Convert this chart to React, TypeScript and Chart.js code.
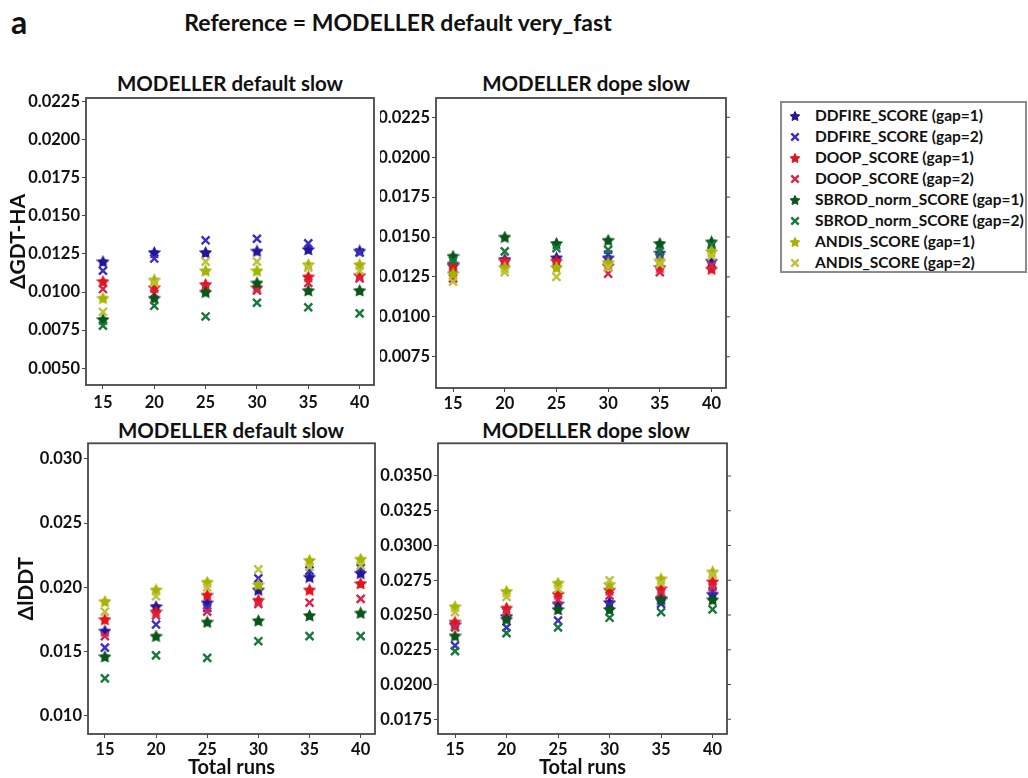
import React, { useEffect, useRef } from "react";
import { Chart, registerables } from "chart.js";
Chart.register(...registerables);

// ---------- data ----------
const RUNS = [15, 20, 25, 30, 35, 40];

const SERIES_NAMES = [
  "DDFIRE_SCORE (gap=1)",
  "DDFIRE_SCORE (gap=2)",
  "DOOP_SCORE (gap=1)",
  "DOOP_SCORE (gap=2)",
  "SBROD_norm_SCORE (gap=1)",
  "SBROD_norm_SCORE (gap=2)",
  "ANDIS_SCORE (gap=1)",
  "ANDIS_SCORE (gap=2)",
];
const SERIES_COLORS = ["#24169a", "#3d2dc4", "#e3141c", "#d8244a", "#0a561a", "#17783c", "#a6b400", "#bcc23a"];
const SERIES_SHAPES = ["star", "x", "star", "x", "star", "x", "star", "x"];

// ΔGDT-HA, MODELLER default slow
const GDT_DEF_DDFIRE1 = [0.0120, 0.0126, 0.0126, 0.0127, 0.0128, 0.0127];
const GDT_DEF_DDFIRE2 = [0.0114, 0.0122, 0.0134, 0.0135, 0.0132, 0.0126];
const GDT_DEF_DOOP1 = [0.0107, 0.0103, 0.0105, 0.0103, 0.0110, 0.0111];
const GDT_DEF_DOOP2 = [0.0102, 0.0099, 0.0103, 0.0101, 0.0106, 0.0109];
const GDT_DEF_SBROD1 = [0.0082, 0.0096, 0.0100, 0.0106, 0.0101, 0.0101];
const GDT_DEF_SBROD2 = [0.0078, 0.0091, 0.0084, 0.0093, 0.0090, 0.0086];
const GDT_DEF_ANDIS1 = [0.0096, 0.0108, 0.0114, 0.0114, 0.0118, 0.0118];
const GDT_DEF_ANDIS2 = [0.0087, 0.0106, 0.0120, 0.0120, 0.0116, 0.0114];

// ΔGDT-HA, MODELLER dope slow
const GDT_DOPE_DDFIRE1 = [0.0133, 0.0136, 0.0137, 0.0137, 0.0140, 0.0135];
const GDT_DOPE_DDFIRE2 = [0.0130, 0.0133, 0.0134, 0.0139, 0.0137, 0.0133];
const GDT_DOPE_DOOP1 = [0.0132, 0.0135, 0.0135, 0.0132, 0.0131, 0.0130];
const GDT_DOPE_DOOP2 = [0.0124, 0.0134, 0.0133, 0.0127, 0.0128, 0.0132];
const GDT_DOPE_SBROD1 = [0.0138, 0.0150, 0.0146, 0.0148, 0.0146, 0.0147];
const GDT_DOPE_SBROD2 = [0.0135, 0.0141, 0.0143, 0.0142, 0.0141, 0.0145];
const GDT_DOPE_ANDIS1 = [0.0127, 0.0131, 0.0131, 0.0134, 0.0135, 0.0141];
const GDT_DOPE_ANDIS2 = [0.0122, 0.0128, 0.0125, 0.0131, 0.0133, 0.0138];

// ΔlDDT, MODELLER default slow
const LDDT_DEF_DDFIRE1 = [0.0166, 0.0185, 0.0188, 0.0198, 0.0208, 0.0211];
const LDDT_DEF_DDFIRE2 = [0.0153, 0.0171, 0.0184, 0.0207, 0.0213, 0.0215];
const LDDT_DEF_DOOP1 = [0.0175, 0.0181, 0.0194, 0.0190, 0.0198, 0.0203];
const LDDT_DEF_DOOP2 = [0.0162, 0.0178, 0.0181, 0.0187, 0.0188, 0.0191];
const LDDT_DEF_SBROD1 = [0.0146, 0.0162, 0.0173, 0.0174, 0.0178, 0.0180];
const LDDT_DEF_SBROD2 = [0.0129, 0.0147, 0.0145, 0.0158, 0.0162, 0.0162];
const LDDT_DEF_ANDIS1 = [0.0189, 0.0198, 0.0204, 0.0202, 0.0221, 0.0222];
const LDDT_DEF_ANDIS2 = [0.0181, 0.0193, 0.0200, 0.0214, 0.0216, 0.0217];

// ΔlDDT, MODELLER dope slow
const LDDT_DOPE_DDFIRE1 = [0.0243, 0.0249, 0.0258, 0.0259, 0.0262, 0.0265];
const LDDT_DOPE_DDFIRE2 = [0.0228, 0.0241, 0.0246, 0.0257, 0.0258, 0.0267];
const LDDT_DOPE_DOOP1 = [0.0245, 0.0255, 0.0265, 0.0268, 0.0269, 0.0274];
const LDDT_DOPE_DOOP2 = [0.0241, 0.0252, 0.0261, 0.0264, 0.0266, 0.0270];
const LDDT_DOPE_SBROD1 = [0.0235, 0.0247, 0.0254, 0.0254, 0.0261, 0.0261];
const LDDT_DOPE_SBROD2 = [0.0224, 0.0237, 0.0241, 0.0248, 0.0252, 0.0254];
const LDDT_DOPE_ANDIS1 = [0.0256, 0.0267, 0.0273, 0.0272, 0.0276, 0.0281];
const LDDT_DOPE_ANDIS2 = [0.0252, 0.0263, 0.0269, 0.0275, 0.0273, 0.0279];

const FONT = "Lato, 'Open Sans', 'DejaVu Sans', sans-serif";

// ---------- markers ----------
function starPath(ctx: CanvasRenderingContext2D, cx: number, cy: number, ro: number, ri: number) {
  ctx.beginPath();
  for (let k = 0; k < 10; k++) {
    const r = k % 2 === 0 ? ro : ri;
    const a = -Math.PI / 2 + (k * Math.PI) / 5;
    const px = cx + r * Math.cos(a);
    const py = cy + r * Math.sin(a);
    if (k === 0) ctx.moveTo(px, py);
    else ctx.lineTo(px, py);
  }
  ctx.closePath();
}

const starCache: Record<string, HTMLCanvasElement> = {};
function starImage(color: string): HTMLCanvasElement {
  if (starCache[color]) return starCache[color];
  const size = 13;
  const c = document.createElement("canvas");
  c.width = size;
  c.height = size;
  const ctx = c.getContext("2d")!;
  ctx.fillStyle = color;
  ctx.strokeStyle = color;
  ctx.lineWidth = 1.2;
  starPath(ctx, size / 2, size / 2 + 0.5, 5.6, 2.9);
  ctx.fill();
  ctx.stroke();
  starCache[color] = c;
  return c;
}

// ---------- panel ----------
type PanelProps = {
  left: number;
  top: number;
  width: number;
  height: number;
  padTop: number;
  yTitle?: string;
  yTitlePad?: number;
  xTitle?: string;
  yWidth: number;
  xHeight: number;
  xTickPad: number;
  yMin: number;
  yMax: number;
  yStep: number;
  decimals: number;
  rightTicks: boolean;
  padRight: number;
  series: number[][];
};

const framePlugin = {
  id: "frame",
  afterDraw(chart: any, _args: any, opts: any) {
    const { ctx, chartArea: a } = chart;
    ctx.save();
    ctx.strokeStyle = "#474747";
    ctx.lineWidth = 1.8;
    ctx.strokeRect(a.left, a.top, a.right - a.left, a.bottom - a.top);
    if (opts && opts.rightTicks) {
      const ys = chart.scales.y;
      ctx.lineWidth = 1;
      ys.ticks.forEach((t: any) => {
        const p = ys.getPixelForValue(t.value);
        ctx.beginPath();
        ctx.moveTo(a.right, p);
        ctx.lineTo(a.right + 4, p);
        ctx.stroke();
      });
    }
    ctx.restore();
  },
};

function Panel(p: PanelProps) {
  const ref = useRef<HTMLCanvasElement>(null);
  useEffect(() => {
    if (!ref.current) return;
    const datasets = p.series.map((vals, i) => {
      const color = SERIES_COLORS[i];
      const isStar = SERIES_SHAPES[i] === "star";
      return {
        label: SERIES_NAMES[i],
        data: RUNS.map((r, j) => ({ x: r, y: vals[j] })),
        pointStyle: isStar ? (starImage(color) as any) : "crossRot",
        pointRadius: isStar ? 5 : 5.6,
        pointBorderWidth: isStar ? 1 : 2.4,
        borderColor: color,
        backgroundColor: color,
        order: SERIES_NAMES.length - i,
        showLine: false,
      };
    });
    const chart = new Chart(ref.current, {
      type: "scatter",
      data: { datasets },
      plugins: [framePlugin as any],
      options: {
        responsive: false,
        maintainAspectRatio: false,
        animation: false,
        events: [],
        layout: { padding: { left: 0, right: p.padRight, top: p.padTop, bottom: 0 } },
        plugins: {
          legend: { display: false },
          tooltip: { enabled: false },
          title: { display: false },
          frame: { rightTicks: p.rightTicks },
        } as any,
        scales: {
          x: {
            type: "linear",
            min: 13.35,
            max: 41.4,
            afterFit: (s: any) => {
              s.height = p.xHeight;
            },
            ticks: {
              stepSize: 5,
              includeBounds: false,
              color: "#111",
              padding: p.xTickPad,
              font: { family: FONT, size: 16.5, weight: "bold" },
              callback: (v: any) => String(v),
              maxRotation: 0,
            },
            grid: { display: true, drawOnChartArea: false, drawTicks: true, tickLength: 4, color: "#474747" },
            border: { display: false },
            title: {
              display: !!p.xTitle,
              text: p.xTitle || "",
              color: "#111",
              font: { family: FONT, size: 20, weight: "bold", lineHeight: 1 },
              padding: 0,
            },
          },
          y: {
            type: "linear",
            min: p.yMin,
            max: p.yMax,
            afterFit: (s: any) => {
              s.width = p.yWidth;
            },
            ticks: {
              stepSize: p.yStep,
              includeBounds: false,
              color: "#111",
              padding: 2,
              font: { family: FONT, size: 16.5, weight: "bold" },
              callback: (v: any) => Number(v).toFixed(p.decimals),
            },
            grid: { display: true, drawOnChartArea: false, drawTicks: true, tickLength: 4, color: "#474747" },
            border: { display: false },
            title: {
              display: !!p.yTitle,
              text: p.yTitle || "",
              color: "#111",
              font: { family: FONT, size: 21, weight: "bold", lineHeight: 1.2 },
              padding: { top: p.yTitlePad || 0, bottom: 0 },
            },
          },
        },
      } as any,
    });
    return () => chart.destroy();
  }, []);
  return (
    <canvas
      ref={ref}
      width={p.width}
      height={p.height}
      style={{ position: "absolute", left: p.left, top: p.top, width: p.width, height: p.height }}
    />
  );
}

function PanelTitle({ text, cx, cy }: { text: string; cx: number; cy: number }) {
  return (
    <div
      style={{
        position: "absolute",
        left: cx - 200,
        width: 400,
        top: cy - 13,
        height: 26,
        lineHeight: "26px",
        textAlign: "center",
        fontSize: 20.5,
        fontWeight: "bold",
        color: "#111",
        whiteSpace: "nowrap",
      }}
    >
      {text}
    </div>
  );
}

function LegendMarker({ color, shape }: { color: string; shape: string }) {
  if (shape === "star") {
    const pts: string[] = [];
    for (let k = 0; k < 10; k++) {
      const r = k % 2 === 0 ? 5 : 2.5;
      const a = -Math.PI / 2 + (k * Math.PI) / 5;
      pts.push(`${(7 + r * Math.cos(a)).toFixed(2)},${(7.5 + r * Math.sin(a)).toFixed(2)}`);
    }
    return (
      <svg width={14} height={14} style={{ display: "block" }}>
        <polygon points={pts.join(" ")} fill={color} stroke={color} strokeWidth={1} />
      </svg>
    );
  }
  return (
    <svg width={14} height={14} style={{ display: "block" }}>
      <path d="M3.3 3.3 L10.7 10.7 M10.7 3.3 L3.3 10.7" stroke={color} strokeWidth={2.4} />
    </svg>
  );
}

export default function App() {
  useEffect(() => {
    document.body.style.margin = "0";
  }, []);
  return (
    <div
      style={{
        position: "fixed",
        left: 0,
        top: 0,
        width: 1028,
        height: 778,
        overflow: "hidden",
        background: "#fff",
        fontFamily: FONT,
      }}
    >
      <div style={{ position: "absolute", left: 11, top: 2, fontSize: 32, fontWeight: "bold", color: "#111", lineHeight: "40px" }}>a</div>
      <div
        style={{
          position: "absolute",
          left: 98,
          width: 600,
          top: 8,
          textAlign: "center",
          fontSize: 23,
          fontWeight: "bold",
          color: "#111",
          lineHeight: "28px",
        }}
      >
        Reference = MODELLER default very_fast
      </div>

      <PanelTitle text="MODELLER default slow" cx={230} cy={83} />
      <PanelTitle text="MODELLER dope slow" cx={586} cy={83} />
      <PanelTitle text="MODELLER default slow" cx={231} cy={430} />
      <PanelTitle text="MODELLER dope slow" cx={586} cy={430} />

      <Panel
        left={0}
        top={60}
        width={382}
        height={355}
        padTop={38}
        yTitle="ΔGDT-HA"
        yTitlePad={5.5}
        yWidth={86}
        xHeight={30}
        xTickPad={4}
        yMin={0.0039}
        yMax={0.02274}
        yStep={0.0025}
        decimals={4}
        rightTicks={false}
        padRight={4}
        series={[GDT_DEF_DDFIRE1, GDT_DEF_DDFIRE2, GDT_DEF_DOOP1, GDT_DEF_DOOP2, GDT_DEF_SBROD1, GDT_DEF_SBROD2, GDT_DEF_ANDIS1, GDT_DEF_ANDIS2]}
      />
      <Panel
        left={380}
        top={60}
        width={354}
        height={358}
        padTop={38}
        yWidth={56}
        xHeight={30}
        xTickPad={2}
        yMin={0.00554}
        yMax={0.02371}
        yStep={0.0025}
        decimals={4}
        rightTicks={true}
        padRight={6}
        series={[GDT_DOPE_DDFIRE1, GDT_DOPE_DDFIRE2, GDT_DOPE_DOOP1, GDT_DOPE_DOOP2, GDT_DOPE_SBROD1, GDT_DOPE_SBROD2, GDT_DOPE_ANDIS1, GDT_DOPE_ANDIS2]}
      />
      <Panel
        left={0}
        top={405}
        width={383}
        height={373}
        padTop={38.3}
        yTitle="ΔlDDT"
        yTitlePad={14}
        xTitle="Total runs"
        yWidth={88}
        xHeight={44}
        xTickPad={2}
        yMin={0.00857}
        yMax={0.03122}
        yStep={0.005}
        decimals={3}
        rightTicks={false}
        padRight={4}
        series={[LDDT_DEF_DDFIRE1, LDDT_DEF_DDFIRE2, LDDT_DEF_DOOP1, LDDT_DEF_DOOP2, LDDT_DEF_SBROD1, LDDT_DEF_SBROD2, LDDT_DEF_ANDIS1, LDDT_DEF_ANDIS2]}
      />
      <Panel
        left={380}
        top={405}
        width={355}
        height={373}
        padTop={38.3}
        xTitle="Total runs"
        yWidth={58}
        xHeight={44}
        xTickPad={2}
        yMin={0.01644}
        yMax={0.03735}
        yStep={0.0025}
        decimals={4}
        rightTicks={true}
        padRight={6}
        series={[LDDT_DOPE_DDFIRE1, LDDT_DOPE_DDFIRE2, LDDT_DOPE_DOOP1, LDDT_DOPE_DOOP2, LDDT_DOPE_SBROD1, LDDT_DOPE_SBROD2, LDDT_DOPE_ANDIS1, LDDT_DOPE_ANDIS2]}
      />

      <div
        style={{
          position: "absolute",
          left: 780,
          top: 101,
          width: 247,
          height: 172,
          border: "2px solid #8c8c8c",
          boxSizing: "border-box",
          background: "#fff",
          overflow: "hidden",
        }}
      >
        {SERIES_NAMES.map((name, i) => (
          <div
            key={name}
            style={{
              position: "absolute",
              left: 6,
              top: 2 + i * 21,
              height: 21,
              display: "flex",
              alignItems: "center",
              whiteSpace: "nowrap",
            }}
          >
            <LegendMarker color={SERIES_COLORS[i]} shape={SERIES_SHAPES[i]} />
            <span style={{ marginLeft: 13, fontSize: 15.5, fontWeight: "bold", color: "#111", lineHeight: "21px" }}>{name}</span>
          </div>
        ))}
      </div>
    </div>
  );
}
